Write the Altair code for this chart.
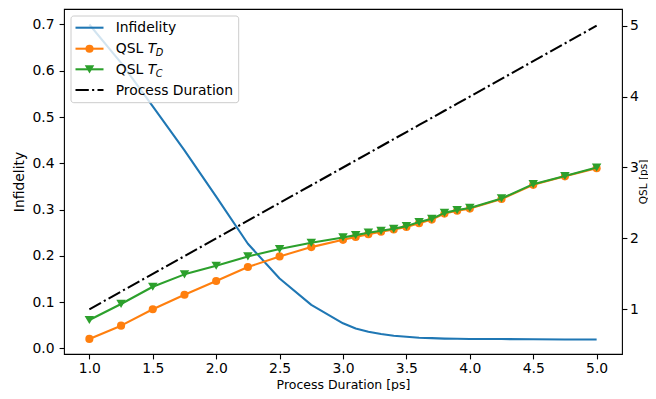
import altair as alt
import pandas as pd

# ---------------- data ----------------
duration = [1.0, 1.25, 1.5, 1.75, 2.0, 2.25, 2.5, 2.75, 3.0, 3.1, 3.2, 3.3,
            3.4, 3.5, 3.6, 3.7, 3.8, 3.9, 4.0, 4.25, 4.5, 4.75, 5.0]
infidelity = [0.700, 0.617, 0.523, 0.428, 0.328, 0.226, 0.151, 0.094, 0.054,
              0.043, 0.036, 0.031, 0.027, 0.025, 0.023, 0.022, 0.021, 0.0205,
              0.020, 0.020, 0.0195, 0.019, 0.019]
qsl_td = [0.582, 0.769, 1.000, 1.206, 1.399, 1.596, 1.746, 1.877, 1.980,
          2.020, 2.060, 2.095, 2.125, 2.160, 2.215, 2.265, 2.350, 2.390,
          2.420, 2.555, 2.755, 2.875, 2.990]
qsl_tc = [0.849, 1.075, 1.318, 1.493, 1.614, 1.746, 1.849, 1.938, 2.014,
          2.046, 2.080, 2.107, 2.135, 2.173, 2.230, 2.276, 2.360, 2.400,
          2.430, 2.563, 2.765, 2.880, 3.000]
process_duration = [1.0, 1.25, 1.5, 1.75, 2.0, 2.25, 2.5, 2.75, 3.0, 3.1, 3.2,
                    3.3, 3.4, 3.5, 3.6, 3.7, 3.8, 3.9, 4.0, 4.25, 4.5, 4.75, 5.0]

x_ticks = [1.0, 1.5, 2.0, 2.5, 3.0, 3.5, 4.0, 4.5, 5.0]
left_ticks = [0.0, 0.1, 0.2, 0.3, 0.4, 0.5, 0.6, 0.7]
right_ticks = [1, 2, 3, 4, 5]

legend_labels = ["Infidelity", "QSL ", "QSL ", "Process Duration"]
legend_italic = ["", "T", "T", ""]
legend_sub = ["", "D", "C", ""]

BLUE, ORANGE, GREEN = "#1f77b4", "#ff7f0e", "#2ca02c"
FONT = "DejaVu Sans"
FS = 13.9
LW = 2.08
DASHDOT = [13.3, 3.3, 2.1, 3.3]

df = pd.DataFrame({
    "duration": duration,
    "infidelity": infidelity,
    "qsl_td": qsl_td,
    "qsl_tc": qsl_tc,
    "process": process_duration,
})

W, H = 558, 345

x_enc = alt.X(
    "duration:Q",
    scale=alt.Scale(domain=[0.8, 5.2], nice=False, zero=False),
    axis=alt.Axis(values=x_ticks, format=".1f", title="Process Duration [ps]",
                  titleX=W / 2, titleY=34, titleBaseline="alphabetic",
                  titleAlign="center", titleFontSize=12.5, labelPadding=3,
                  labelFlush=False),
)

left_axis = alt.Axis(orient="left", values=left_ticks, format=".1f",
                     title="Infidelity", titleX=-41, titleY=H / 2,
                     titleAngle=270, titleBaseline="alphabetic",
                     titleAlign="center")
right_axis = alt.Axis(orient="right", values=right_ticks, format="d",
                      title="QSL [ps]", titleX=24.5, titleY=H / 2,
                      titleAngle=270, titleBaseline="alphabetic",
                      titleAlign="center", titleFontSize=10.5,
                      labelPadding=2.5)
left_scale = alt.Scale(domain=[-0.0123, 0.7335], nice=False, zero=False)
right_scale = alt.Scale(domain=[0.3695, 5.2355], nice=False, zero=False)

base = alt.Chart(df)

infid_line = base.mark_line(color=BLUE, strokeWidth=LW, strokeJoin="round").encode(
    x=x_enc, y=alt.Y("infidelity:Q", scale=left_scale, axis=left_axis))

def ry(field):
    return alt.Y(f"{field}:Q", scale=right_scale, axis=right_axis)

td_line = base.mark_line(color=ORANGE, strokeWidth=LW, strokeJoin="round").encode(
    x=x_enc, y=ry("qsl_td"))
td_pts = base.mark_point(shape="circle", filled=True, size=66, color=ORANGE,
                         opacity=1).encode(x=x_enc, y=ry("qsl_td"))
tc_line = base.mark_line(color=GREEN, strokeWidth=LW, strokeJoin="round").encode(
    x=x_enc, y=ry("qsl_tc"))
tc_pts = base.mark_point(shape="triangle-down", filled=True, size=90,
                         color=GREEN, opacity=1).encode(x=x_enc, y=ry("qsl_tc"))
proc_line = base.mark_line(color="black", strokeWidth=LW,
                           strokeDash=DASHDOT).encode(x=x_enc, y=ry("process"))

right = alt.layer(td_line, td_pts, tc_line, tc_pts, proc_line)

# ---------------- legend (matplotlib style, drawn in the plot) ----------------
one = pd.DataFrame({"k": [0]})
row_y = [18.7, 39.7, 60.3, 81.0]
leg = []
leg.append(alt.Chart(one).mark_rect(fill="white", fillOpacity=0.8,
                                    stroke="#cccccc", strokeWidth=1,
                                    cornerRadius=2.8).encode(
    x=alt.value(7), x2=alt.value(174.7), y=alt.value(7), y2=alt.value(93.7)))

handle_styles = [
    dict(color=BLUE, strokeWidth=LW),
    dict(color=ORANGE, strokeWidth=LW),
    dict(color=GREEN, strokeWidth=LW),
    dict(color="black", strokeWidth=LW, strokeDash=DASHDOT),
]
for i, st in enumerate(handle_styles):
    leg.append(alt.Chart(one).mark_rule(**st).encode(
        x=alt.value(11.5), x2=alt.value(39.5), y=alt.value(row_y[i])))
leg.append(alt.Chart(one).mark_point(shape="circle", filled=True, size=66,
                                     color=ORANGE, opacity=1).encode(
    x=alt.value(25.5), y=alt.value(row_y[1])))
leg.append(alt.Chart(one).mark_point(shape="triangle-down", filled=True,
                                     size=90, color=GREEN, opacity=1).encode(
    x=alt.value(25.5), y=alt.value(row_y[2])))

for i, lab in enumerate(legend_labels):
    leg.append(alt.Chart(one).mark_text(align="left", baseline="alphabetic",
                                        font=FONT, fontSize=FS,
                                        color="black").encode(
        x=alt.value(51.7), y=alt.value(row_y[i] + 4.6), text=alt.value(lab)))
    if legend_italic[i]:
        leg.append(alt.Chart(one).mark_text(align="left", baseline="alphabetic",
                                            font=FONT, fontSize=FS,
                                            fontStyle="italic",
                                            color="black").encode(
            x=alt.value(83.8), y=alt.value(row_y[i] + 4.6),
            text=alt.value(legend_italic[i])))
        leg.append(alt.Chart(one).mark_text(align="left", baseline="alphabetic",
                                            font=FONT, fontSize=9.8,
                                            fontStyle="italic",
                                            color="black").encode(
            x=alt.value(91.8), y=alt.value(row_y[i] + 7.2),
            text=alt.value(legend_sub[i])))

chart = alt.layer(infid_line, right, *leg).resolve_scale(
    y="independent"
).properties(
    width=W, height=H,
    autosize=alt.AutoSizeParams(type="none"),
    padding={"left": 56, "top": 1, "right": 26, "bottom": 37},
).configure_view(
    stroke="black", strokeWidth=1.1
).configure_axis(
    grid=False, domain=False,
    labelFont=FONT, labelFontSize=FS, labelColor="black",
    tickColor="black", tickWidth=1.1, tickSize=4.9, labelPadding=5,
    titleFont=FONT, titleFontSize=FS, titleFontWeight="normal",
    titleColor="black", labelOverlap=False,
)

chart.save("out.html", embed_options={"renderer": "svg", "actions": False})
